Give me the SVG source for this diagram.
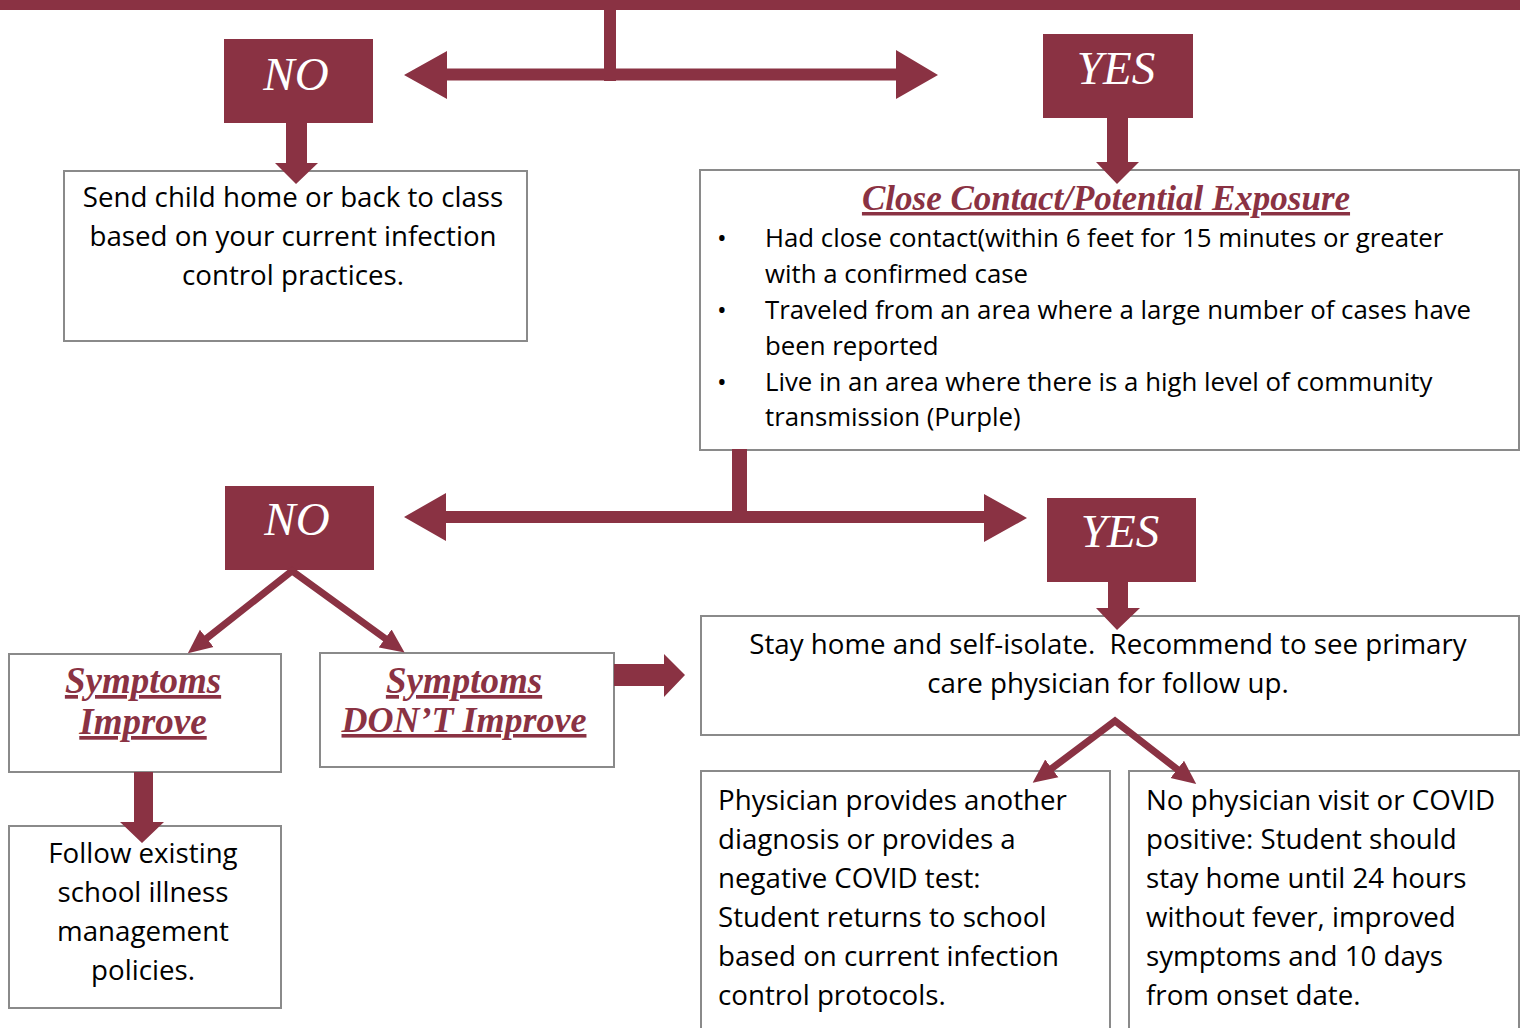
<svg xmlns="http://www.w3.org/2000/svg" width="1525" height="1028" viewBox="0 0 1525 1028">
  <style>
    .box { fill: #ffffff; stroke: #8a8a8a; stroke-width: 2; }
    .tag { fill: #8a3243; }
    .tagtxt { font-family: "Liberation Serif", serif; font-style: italic; font-size: 47px; fill: #ffffff; text-anchor: middle; }
    .body { font-family: "Open Sans", "Liberation Sans", sans-serif; font-size: 27.7px; fill: #000000; }
    .list { font-size: 25.8px; }
    .mid { text-anchor: middle; }
    .head { font-family: "Liberation Serif", serif; font-style: italic; font-weight: bold; fill: #8a3243; text-decoration: underline; text-anchor: middle; }
    .solid { fill: #8a3243; }
    .thin { fill: none; stroke: #8a3243; stroke-width: 7; stroke-linejoin: miter; stroke-miterlimit: 10; marker-start: url(#tip); marker-end: url(#tip); }
  </style>
  <defs>
    <marker id="tip" markerUnits="userSpaceOnUse" markerWidth="26" markerHeight="24" refX="6" refY="12" orient="auto-start-reverse">
      <path d="M0,1 L24,12 L0,23 z" fill="#8a3243"/>
    </marker>
  </defs>

  <rect width="1525" height="1028" fill="#ffffff"/>

  <!-- decision tags -->
  <g id="no-1">
    <rect class="tag" x="224" y="39" width="149" height="84"/>
    <text class="tagtxt" x="296" y="90">NO</text>
  </g>
  <g id="yes-1">
    <rect class="tag" x="1043" y="34" width="150" height="84"/>
    <text class="tagtxt" x="1116" y="84">YES</text>
  </g>
  <g id="no-2">
    <rect class="tag" x="225" y="486" width="149" height="84"/>
    <text class="tagtxt" x="297" y="535">NO</text>
  </g>
  <g id="yes-2">
    <rect class="tag" x="1047" y="498" width="149" height="84"/>
    <text class="tagtxt" x="1120" y="547">YES</text>
  </g>

  <!-- outcome boxes -->
  <g id="send-home">
    <rect class="box" x="64" y="171" width="463" height="170"/>
    <text class="body mid" x="293" y="207">Send child home or back to class</text>
    <text class="body mid" x="293" y="246">based on your current infection</text>
    <text class="body mid" x="293" y="285">control practices.</text>
  </g>

  <g id="close-contact">
    <rect class="box" x="700" y="170" width="819" height="280"/>
    <text class="head" x="1106" y="210" font-size="35">Close Contact/Potential Exposure</text>
    <g class="body list">
      <text x="717" y="247">•</text>
      <text x="765" y="247">Had close contact(within 6 feet for 15 minutes or greater</text>
      <text x="765" y="283">with a confirmed case</text>
      <text x="717" y="319">•</text>
      <text x="765" y="319">Traveled from an area where a large number of cases have</text>
      <text x="765" y="355">been reported</text>
      <text x="717" y="391">•</text>
      <text x="765" y="391">Live in an area where there is a high level of community</text>
      <text x="765" y="426">transmission (Purple)</text>
    </g>
  </g>

  <g id="symptoms-improve">
    <rect class="box" x="9" y="654" width="272" height="118"/>
    <text class="head" x="143" y="693" font-size="37">Symptoms</text>
    <text class="head" x="143" y="734" font-size="37">Improve</text>
  </g>

  <g id="symptoms-dont-improve">
    <rect class="box" x="320" y="653" width="294" height="114"/>
    <text class="head" x="464" y="693" font-size="37">Symptoms</text>
    <text class="head" x="464" y="732" font-size="36">DON’T Improve</text>
  </g>

  <g id="follow-policies">
    <rect class="box" x="9" y="826" width="272" height="182"/>
    <text class="body mid" x="143" y="863">Follow existing</text>
    <text class="body mid" x="143" y="902">school illness</text>
    <text class="body mid" x="143" y="941">management</text>
    <text class="body mid" x="143" y="980">policies.</text>
  </g>

  <g id="stay-home">
    <rect class="box" x="701" y="616" width="818" height="119"/>
    <text class="body mid" x="1108" y="654" style="white-space: pre">Stay home and self-isolate.  Recommend to see primary</text>
    <text class="body mid" x="1108" y="693">care physician for follow up.</text>
  </g>

  <g id="physician-cleared">
    <rect class="box" x="701" y="771" width="409" height="270"/>
    <text class="body" x="718" y="810">Physician provides another</text>
    <text class="body" x="718" y="849">diagnosis or provides a</text>
    <text class="body" x="718" y="888">negative COVID test:</text>
    <text class="body" x="718" y="927">Student returns to school</text>
    <text class="body" x="718" y="966">based on current infection</text>
    <text class="body" x="718" y="1005">control protocols.</text>
  </g>

  <g id="no-physician">
    <rect class="box" x="1129" y="771" width="390" height="270"/>
    <text class="body" x="1146" y="810">No physician visit or COVID</text>
    <text class="body" x="1146" y="849">positive: Student should</text>
    <text class="body" x="1146" y="888">stay home until 24 hours</text>
    <text class="body" x="1146" y="927">without fever, improved</text>
    <text class="body" x="1146" y="966">symptoms and 10 days</text>
    <text class="body" x="1146" y="1005">from onset date.</text>
  </g>

  <!-- connectors -->
  <g id="connectors">
    <!-- bar from the question above -->
    <rect class="solid" x="0" y="0" width="1520" height="10"/>
    <rect class="solid" x="604" y="8" width="12" height="73"/>
    <polygon class="solid" points="404,75 447,51 447,68.5 896,68.5 896,50 938,75 896,99 896,80.5 447,80.5 447,99"/>

    <!-- NO / YES down to first outcomes -->
    <polygon class="solid" points="286,123 307,123 307,163 318,163 296,184 275,163 286,163"/>
    <polygon class="solid" points="1107,118 1128,118 1128,162 1139,162 1117,184 1096,162 1107,162"/>

    <!-- split below close contact box -->
    <rect class="solid" x="732" y="449" width="15" height="74"/>
    <polygon class="solid" points="404,517 446,493 446,511 984,511 984,494 1027,518 984,542 984,523 446,523 446,541"/>

    <!-- YES down to stay home -->
    <polygon class="solid" points="1108,581 1128,581 1128,608 1140,608 1117,630 1096,608 1108,608"/>

    <!-- NO split into symptom outcomes -->
    <path class="thin" d="M202,642 L292,571 L390,642"/>

    <!-- symptoms improve down to policies -->
    <polygon class="solid" points="134,772 153,772 153,822 164,822 142,843 120,822 134,822"/>

    <!-- symptoms don't improve across to stay home -->
    <polygon class="solid" points="614,664 664,664 664,654 685,675 664,697 664,686 614,686"/>

    <!-- stay home split into physician outcomes -->
    <path class="thin" d="M1047,772 L1115,721 L1182,773"/>
  </g>
</svg>
